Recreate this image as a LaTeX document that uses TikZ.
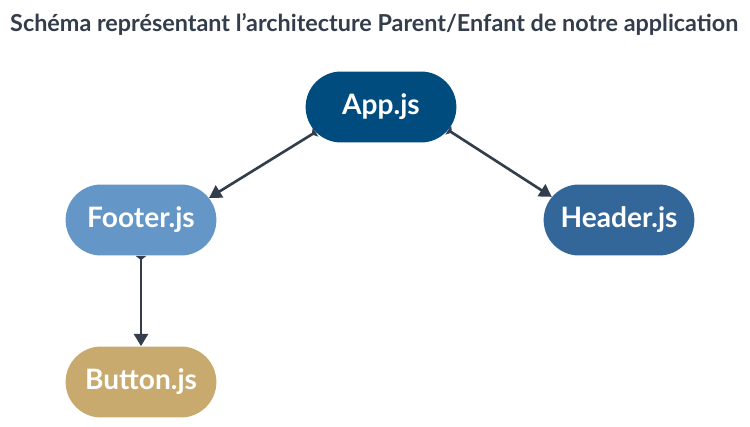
\documentclass[tikz,border=0pt]{standalone}
\usepackage{fontspec}
\setmainfont{Lato}
\usetikzlibrary{arrows.meta,shapes.misc,positioning}
\definecolor{appblue}{HTML}{004C7F}
\definecolor{footblue}{HTML}{6496C8}
\definecolor{headblue}{HTML}{336699}
\definecolor{buttan}{HTML}{C8AA6E}
\definecolor{slate}{HTML}{333D4B}

\begin{document}
\begin{tikzpicture}[x=0.02cm,y=-0.02cm,
comp/.style={rounded rectangle, minimum width=3.25cm, minimum height=1.42cm,
  text=white, font=\fontsize{16}{18}\selectfont\bfseries},
link/.style={draw=slate, line width=1.5pt,
  {Triangle[reversed,width=6pt,length=2.5pt]}-{Triangle[width=8pt,length=7pt]}}]
\useasboundingbox (0,0) rectangle (750,426);
\node[anchor=west, text=slate, font=\fontsize{13.3}{15}\selectfont\bfseries] (title) at (4,24)
  {Schéma représentant l’architecture Parent/Enfant de notre application};
\node[comp, fill=appblue] (app) at (381,107) {App.js};
\node[comp, fill=footblue] (footer) at (141,220) {Footer.js};
\node[comp, fill=headblue] (header) at (619,220) {Header.js};
\node[comp, fill=buttan] (button) at (141,382) {Button.js};
\begin{scope}
\draw[link] (app.201)--(footer.18);
\draw[link] (app.-19)--(header.161);
\draw[link] (footer.south)--(button.north);
\end{scope}
\end{tikzpicture}
\end{document}
